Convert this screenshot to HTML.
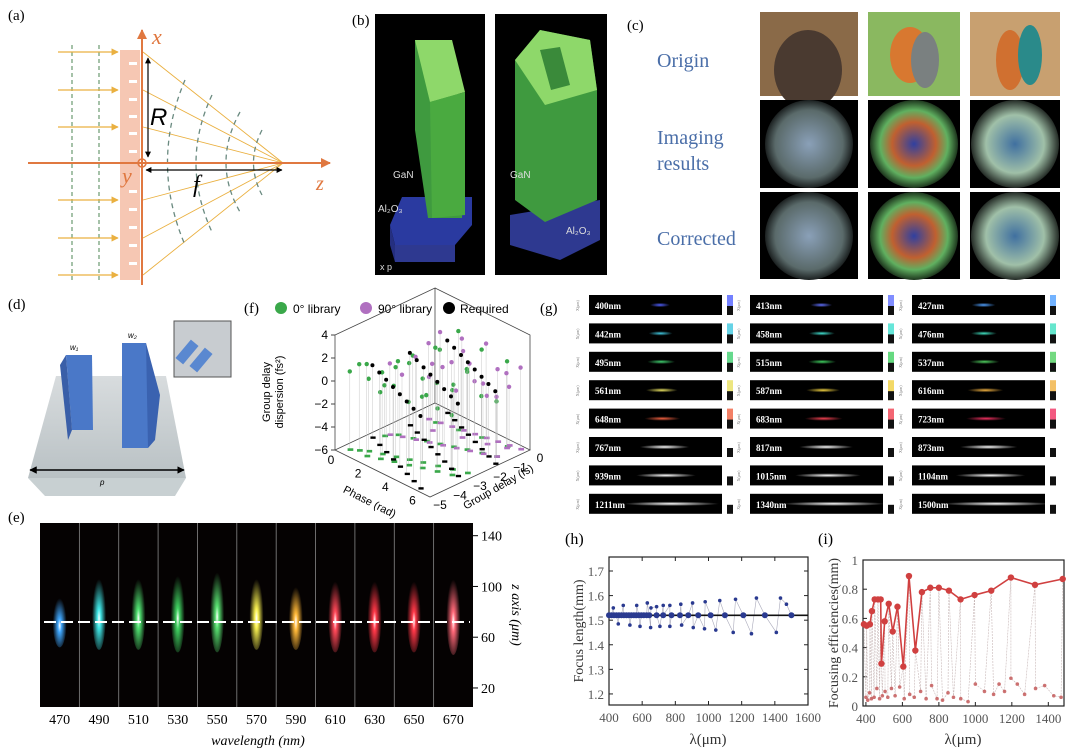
<!DOCTYPE html>
<html><head><meta charset="utf-8">
<style>
html,body{margin:0;padding:0;background:#fff;}
svg{display:block;font-family:"Liberation Serif",serif;}
.sans{font-family:"Liberation Sans",sans-serif;}
</style></head>
<body>
<svg id="root" width="1080" height="755" viewBox="0 0 1080 755" xmlns="http://www.w3.org/2000/svg">
<defs>
  <marker id="arO" viewBox="0 0 10 10" refX="9" refY="5" markerWidth="5" markerHeight="5" orient="auto"><path d="M0,0L10,5L0,10z" fill="#e07840"/></marker>
  <marker id="arY" viewBox="0 0 10 10" refX="9" refY="5" markerWidth="6" markerHeight="6" orient="auto"><path d="M0,0L10,5L0,10z" fill="#eab040"/></marker>
  <marker id="arK" viewBox="0 0 10 10" refX="9" refY="5" markerWidth="5" markerHeight="5" orient="auto-start-reverse"><path d="M0,0L10,5L0,10z" fill="#000"/></marker>
  <linearGradient id="plate" x1="0" y1="0" x2="0" y2="1"><stop offset="0" stop-color="#d8dcde"/><stop offset="1" stop-color="#b9c1c4"/></linearGradient>
  <radialGradient id="glowA" cx="0.5" cy="0.5" r="0.55"><stop offset="0" stop-color="#8aa0b8"/><stop offset="0.7" stop-color="#5a6a6a"/><stop offset="1" stop-color="#000"/></radialGradient>
  <radialGradient id="glowB" cx="0.5" cy="0.5" r="0.55"><stop offset="0" stop-color="#3040a0"/><stop offset="0.45" stop-color="#c06030"/><stop offset="0.7" stop-color="#60b060"/><stop offset="1" stop-color="#000"/></radialGradient>
  <radialGradient id="glowC" cx="0.5" cy="0.5" r="0.55"><stop offset="0" stop-color="#4070a0"/><stop offset="0.6" stop-color="#a0c0a8"/><stop offset="1" stop-color="#000"/></radialGradient>
</defs>

<!-- PANEL A -->
<g>
  <text x="8" y="20" font-size="15">(a)</text>
  <rect x="120" y="50" width="20" height="230" fill="#f6c7b3"/>
  <g fill="#fff">
    <rect x="129" y="62" width="8" height="3"/><rect x="129" y="80" width="8" height="3"/><rect x="129" y="98" width="8" height="3"/><rect x="129" y="115" width="8" height="3"/><rect x="129" y="132" width="8" height="3"/><rect x="129" y="150" width="8" height="3"/><rect x="129" y="190" width="8" height="3"/><rect x="129" y="208" width="8" height="3"/><rect x="129" y="226" width="8" height="3"/><rect x="129" y="244" width="8" height="3"/><rect x="129" y="262" width="8" height="3"/>
  </g>
  <g stroke="#6a9a70" stroke-dasharray="4,3" stroke-width="1.2">
    <line x1="72" y1="45" x2="72" y2="280"/><line x1="99" y1="45" x2="99" y2="280"/>
  </g>
  <g stroke="#eab040" stroke-width="1.2" marker-end="url(#arY)">
    <line x1="58" y1="52" x2="118" y2="52"/><line x1="58" y1="90" x2="118" y2="90"/><line x1="58" y1="127" x2="118" y2="127"/><line x1="58" y1="200" x2="118" y2="200"/><line x1="58" y1="238" x2="118" y2="238"/><line x1="58" y1="275" x2="118" y2="275"/>
  </g>
  <g stroke="#eab040" stroke-width="0.9">
    <line x1="143" y1="52" x2="283" y2="163"/><line x1="143" y1="90" x2="283" y2="163"/><line x1="143" y1="127" x2="283" y2="163"/><line x1="143" y1="200" x2="283" y2="163"/><line x1="143" y1="238" x2="283" y2="163"/><line x1="143" y1="275" x2="283" y2="163"/>
  </g>
  <g fill="none" stroke="#6a8a80" stroke-dasharray="5,4" stroke-width="1.3">
    <path d="M185,80 Q150,163 185,245"/><path d="M212,95 Q180,163 212,232"/><path d="M240,112 Q212,163 240,212"/><path d="M262,130 Q245,163 262,195"/>
  </g>
  <line x1="28" y1="163" x2="330" y2="163" stroke="#e07840" stroke-width="2" marker-end="url(#arO)"/>
  <line x1="142" y1="285" x2="142" y2="30" stroke="#e07840" stroke-width="2" marker-end="url(#arO)"/>
  <circle cx="142" cy="163" r="4" fill="none" stroke="#e07840" stroke-width="1.5"/>
  <line x1="148" y1="58" x2="148" y2="157" stroke="#000" stroke-width="1.2" marker-start="url(#arK)" marker-end="url(#arK)"/>
  <line x1="146" y1="170" x2="282" y2="170" stroke="#000" stroke-width="1.2" marker-start="url(#arK)" marker-end="url(#arK)"/>
  <text x="150" y="125" font-size="24" font-style="italic" font-family="Liberation Sans,sans-serif">R</text>
  <text x="193" y="192" font-size="24" font-style="italic">f</text>
  <text x="152" y="44" font-size="22" font-style="italic" fill="#e07840">x</text>
  <text x="316" y="190" font-size="20" font-style="italic" fill="#e07840">z</text>
  <text x="122" y="183" font-size="22" font-style="italic" fill="#e07840">y</text>
</g>

<!-- PANEL B -->
<g class="sans">
  <text x="352" y="25" font-size="15" font-family="Liberation Serif,serif">(b)</text>
  <rect x="375" y="14" width="110" height="261" fill="#000"/>
  <polygon points="390,225 402,197 472,197 472,225 455,245 395,245" fill="#2a3aa0"/>
  <polygon points="390,225 395,245 395,262 390,245" fill="#252f80"/>
  <polygon points="395,245 455,245 455,262 395,262" fill="#2e3990"/>
  <polygon points="415,40 452,40 462,122 462,218 428,218 415,130" fill="#3f9a3f"/>
  <polygon points="415,40 452,40 465,92 430,102" fill="#8ed86a"/>
  <polygon points="430,102 465,92 465,215 432,218" fill="#4aaa40"/>
  <text x="393" y="178" font-size="10" fill="#ddd">GaN</text>
  <text x="380" y="270" font-size="9" fill="#ddd">x      p</text>
  <rect x="495" y="14" width="112" height="261" fill="#000"/>
  <polygon points="510,215 600,200 600,240 560,260 510,245" fill="#2e3990"/>
  <polygon points="515,60 540,30 590,40 597,90 597,200 545,222 515,200" fill="#3f9a3f"/>
  <polygon points="515,60 540,30 590,40 597,90 545,105" fill="#8ed86a"/>
  <polygon points="540,50 560,47 570,85 551,90" fill="#3a8a3a"/>
  <text x="510" y="178" font-size="10" fill="#ddd">GaN</text>
  <text x="566" y="234" font-size="10" fill="#ddd">Al₂O₃</text>
  <text x="378" y="212" font-size="10" fill="#ddd">Al₂O₃</text>
</g>

<!-- PANEL C -->
<g>
  <text x="627" y="30" font-size="15">(c)</text>
  <text x="657" y="67" font-size="20" fill="#4a6ea8">Origin</text>
  <text x="657" y="144" font-size="20" fill="#4a6ea8">Imaging</text>
  <text x="657" y="170" font-size="20" fill="#4a6ea8">results</text>
  <text x="657" y="245" font-size="20" fill="#4a6ea8">Corrected</text>
  <rect x="760" y="12" width="98" height="84" fill="#8a6a48"/>
  <ellipse cx="808" cy="70" rx="34" ry="40" fill="#4a3a30"/>
  <rect x="868" y="12" width="92" height="84" fill="#8ab860"/>
  <ellipse cx="910" cy="55" rx="20" ry="28" fill="#d87830"/><ellipse cx="925" cy="60" rx="14" ry="28" fill="#7a8080"/>
  <rect x="970" y="12" width="90" height="84" fill="#c8a070"/>
  <ellipse cx="1010" cy="60" rx="14" ry="30" fill="#d07030"/><ellipse cx="1030" cy="55" rx="12" ry="30" fill="#2a8a8a"/>
  <rect x="760" y="100" width="98" height="88" fill="#000"/><ellipse cx="809" cy="144" rx="44" ry="44" fill="url(#glowA)"/>
  <rect x="868" y="100" width="92" height="88" fill="#000"/><ellipse cx="914" cy="144" rx="44" ry="44" fill="url(#glowB)"/>
  <rect x="970" y="100" width="90" height="88" fill="#000"/><ellipse cx="1015" cy="144" rx="44" ry="44" fill="url(#glowC)"/>
  <rect x="760" y="192" width="98" height="87" fill="#000"/><ellipse cx="809" cy="236" rx="44" ry="44" fill="url(#glowA)"/>
  <rect x="868" y="192" width="92" height="87" fill="#000"/><ellipse cx="914" cy="236" rx="44" ry="44" fill="url(#glowB)"/>
  <rect x="970" y="192" width="90" height="87" fill="#000"/><ellipse cx="1015" cy="236" rx="44" ry="44" fill="url(#glowC)"/>
</g>

<!-- PANEL D -->
<g class="sans">
  <text x="8" y="309" font-size="15" font-family="Liberation Serif,serif">(d)</text>
  <polygon points="56,376 166,376 186,478 28,478" fill="url(#plate)"/>
  <polygon points="28,478 186,478 175,496 45,496" fill="#c8d0d2"/>
  <polygon points="66,355 92,355 93,430 72,430" fill="#4a78c8"/>
  <polygon points="60,365 66,355 72,430 68,440" fill="#3a5fa8"/>
  <polygon points="122,343 146,343 155,405 148,448 122,448" fill="#4a78c8"/>
  <polygon points="146,343 160,395 155,440 148,448" fill="#3a62b0"/>
  <line x1="30" y1="470" x2="184" y2="470" stroke="#000" stroke-width="1.5" marker-start="url(#arK)" marker-end="url(#arK)"/>
  <text x="100" y="485" font-size="8" font-style="italic">p</text>
  <text x="70" y="350" font-size="8" font-style="italic">w₁</text>
  <text x="128" y="338" font-size="8" font-style="italic">w₂</text>
  <rect x="174" y="321" width="57" height="56" fill="#c8ccd0" stroke="#555"/>
  <rect x="182" y="340" width="10" height="24" fill="#5a88d0" transform="rotate(40 187 352)"/>
  <rect x="196" y="348" width="10" height="24" fill="#5a88d0" transform="rotate(40 201 360)"/>
</g>

<!-- PANEL F -->
<g id="panelF" class="sans">
  <text x="244" y="313" font-size="15" font-family="Liberation Serif,serif">(f)</text>
  <circle cx="281" cy="308" r="6" fill="#3aa84a"/><text x="293" y="313" font-size="12">0° library</text>
  <circle cx="366" cy="308" r="6" fill="#b070c0"/><text x="378" y="313" font-size="12">90° library</text>
  <circle cx="449" cy="308" r="6" fill="#000"/><text x="460" y="313" font-size="12">Required</text>
  <text x="270" y="392" font-size="11" transform="rotate(-90 270 392)" text-anchor="middle">Group delay</text>
  <text x="283" y="392" font-size="11" transform="rotate(-90 283 392)" text-anchor="middle">dispersion (fs²)</text>
  <text x="368" y="505" font-size="11" transform="rotate(27 368 505)" text-anchor="middle">Phase (rad)</text>
  <text x="500" y="490" font-size="11" transform="rotate(-30 500 490)" text-anchor="middle">Group delay (fs)</text>
</g>

<!-- PANEL G -->
<g id="panelG">
  <text x="540" y="313" font-size="15">(g)</text>
</g>

<!-- PANEL E -->
<g id="panelE">
  <text x="8" y="522" font-size="15">(e)</text>
  <rect x="40" y="523" width="433" height="184" fill="#050202"/>
</g>

<!-- PANELS H & I -->
<g id="panelH">
  <text x="565" y="544" font-size="16">(h)</text>
</g>
<g id="panelI">
  <text x="818" y="544" font-size="16">(i)</text>
</g>
</svg>

<script>
const NS="http://www.w3.org/2000/svg";
function mk(parent,tag,attrs,text){const e=document.createElementNS(NS,tag);for(const k in attrs)e.setAttribute(k,attrs[k]);if(text!==undefined)e.textContent=text;parent.appendChild(e);return e;}

// ===== Panel F data =====
const f0Phase=[0.5,0.9,1.3,1.6,2.0,2.3,2.7,3.0,3.4,3.8,4.1,4.5,4.9,5.3,5.7,6.1,6.5,0.7,1.1,1.9,2.6,3.3,4.0,4.7,5.5,6.3,1.5,2.9,4.3,5.9];
const f0Gd=[-4.6,-4.4,-4.2,-4.5,-4.0,-4.3,-3.8,-4.1,-3.6,-3.9,-3.4,-3.7,-3.2,-3.5,-3.0,-3.3,-2.8,-3.0,-2.6,-2.4,-2.2,-2.0,-1.8,-1.6,-1.4,-1.2,-1.0,-0.8,-0.6,-0.4];
const f0Gdd=[0.8,1.5,0.3,2.0,1.1,-0.2,1.8,0.6,2.4,-0.5,1.3,0.2,-1.0,1.7,0.9,-0.8,2.8,-1.6,0.4,1.2,-2.0,2.2,-0.6,1.0,3.0,-1.2,0.5,2.6,-2.4,1.4];
const f90Phase=[0.8,1.4,2.1,2.8,3.5,4.2,4.9,5.6,6.3,1.0,1.7,2.4,3.1,3.8,4.5,5.2,5.9,6.6,2.0,3.6,5.0,6.0];
const f90Gd=[-2.8,-2.6,-2.4,-2.2,-2.0,-1.8,-1.6,-1.4,-1.2,-1.0,-0.9,-0.8,-0.7,-0.6,-0.5,-0.4,-0.3,-0.2,-1.5,-1.1,-0.8,-0.5];
const f90Gdd=[0.2,-0.6,1.2,-0.3,0.8,-1.0,1.6,0.1,-0.8,0.6,1.9,-0.4,0.9,-1.4,2.2,0.3,-0.9,1.1,-0.2,2.6,-1.8,0.5];
const reqPhase=[6.0,5.2,4.4,3.6,2.8,2.0,1.2,0.4,6.4,5.6,4.8,4.0,3.2,2.4,1.6,0.8,6.8,6.0,5.2,4.4,3.6,2.8,2.0,1.2];
const reqGd=[-4.8,-4.6,-4.4,-4.2,-4.0,-3.8,-3.6,-3.4,-3.2,-3.0,-2.8,-2.6,-2.4,-2.2,-2.0,-1.8,-1.6,-1.4,-1.2,-1.0,-0.8,-0.6,-0.4,-0.2];
const reqGdd=[0.3,0.3,0.3,0.3,0.3,0.3,0.3,0.3,0.3,0.3,0.3,0.3,0.3,0.3,0.3,0.3,0.3,0.3,0.3,0.3,0.3,0.3,0.3,0.3];
const fZTicks=[4,2,0,-2,-4,-6];
const fPTicks=[0,2,4,6];
const fGTicks=[0,-1,-2,-3,-4,-5];

// ===== Panel E data =====
const eWavelengths=[470,490,510,530,550,570,590,610,630,650,670];
const eColors=["#40a8ff","#40e8e8","#50e070","#40d060","#58e070","#f8f050","#ffb838","#ff4858","#ff3848","#ff3848","#ff6878"];
const eFocusZ=[72,72,72,72,72,72,72,72,72,72,72];
const eSpotTop=[95,112,112,115,118,112,105,110,110,110,112];
const eSpotBot=[52,50,50,48,48,50,50,48,48,48,46];
const eZTicks=[20,60,100,140];

// ===== Panel G data =====
const gLabels=["400nm","413nm","427nm","442nm","458nm","476nm","495nm","515nm","537nm","561nm","587nm","616nm","648nm","683nm","723nm","767nm","817nm","873nm","939nm","1015nm","1104nm","1211nm","1340nm","1500nm"];
const gSpotLen=[10,11,12,12,13,13,14,14,15,16,17,18,18,19,20,25,27,29,30,33,35,48,52,55];
const gColors=["#5060ff","#6070ff","#50a0ff","#40c8e0","#40e0d0","#40e0c0","#40d070","#40d060","#50d060","#e8e060","#f0d040","#f0b040","#f06040","#f04050","#f03060","#ffffff","#ffffff","#ffffff","#ffffff","#ffffff","#ffffff","#ffffff","#ffffff","#ffffff"];

// ===== Panel H data =====
const hMainX=[400,415,430,445,460,475,490,505,520,535,550,565,580,595,610,627,643,687,727,777,828,878,938,1013,1099,1210,1340,1500];
const hMainY=[1.52,1.52,1.52,1.52,1.52,1.52,1.52,1.52,1.52,1.52,1.52,1.52,1.52,1.52,1.52,1.52,1.52,1.52,1.52,1.52,1.52,1.52,1.52,1.52,1.52,1.52,1.52,1.52];
const hHiX=[426,486,567,631,653,687,727,767,833,904,980,1068,1163,1289,1434];
const hHiY=[1.55,1.56,1.56,1.57,1.55,1.555,1.56,1.56,1.565,1.57,1.575,1.58,1.585,1.59,1.59];
const hLoX=[456,526,587,651,707,767,838,908,976,1044,1149,1259,1409,1470];
const hLoY=[1.485,1.48,1.475,1.47,1.475,1.475,1.48,1.47,1.465,1.46,1.45,1.445,1.45,1.565];
const hFit=1.52;
const hXTicks=[400,600,800,1000,1200,1400,1600];
const hYTicks=[1.2,1.3,1.4,1.5,1.6,1.7];

// ===== Panel I data =====
const iMainX=[389,404,422,433,448,466,481,485,503,525,547,573,605,636,671,707,753,800,855,919,996,1087,1195,1327,1479];
const iMainY=[0.56,0.55,0.56,0.65,0.73,0.73,0.73,0.29,0.58,0.70,0.51,0.68,0.27,0.89,0.38,0.78,0.81,0.81,0.79,0.73,0.76,0.79,0.88,0.83,0.87];
const iSecX=[400,410,420,430,445,460,475,490,505,520,540,560,585,610,640,665,700,730,760,790,820,850,880,920,960,1000,1050,1100,1130,1160,1195,1230,1270,1330,1380,1430,1470];
const iSecY=[0.06,0.04,0.09,0.05,0.06,0.12,0.05,0.07,0.10,0.06,0.12,0.07,0.13,0.05,0.08,0.06,0.10,0.05,0.14,0.05,0.04,0.09,0.06,0.05,0.03,0.15,0.10,0.08,0.15,0.10,0.19,0.15,0.08,0.12,0.14,0.07,0.06];
const iXTicks=[400,600,800,1000,1200,1400];
const iYTicks=[0,0.2,0.4,0.6,0.8,1];

// ---------- draw F ----------
(function(){
  const g=document.getElementById('panelF');
  const P=(p,gd,d)=>[335+p/7*95+(gd+5)/5*100, 450+p/7*47-(gd+5)/5*47-(d+6)*11.5];
  const floor=[P(0,-5,-6),P(7,-5,-6),P(7,0,-6),P(0,0,-6)];
  const fl=mk(g,'polygon',{points:floor.map(q=>q.join(',')).join(' '),fill:'#fff',stroke:'#444','stroke-width':0.8});
  
  const a=P(0,-5,-6),b=P(0,-5,4),c=P(0,0,4),d=P(0,0,-6),e=P(7,0,4),f=P(7,0,-6);
  mk(g,'polyline',{points:[a,b,c,d].map(q=>q.join(',')).join(' '),fill:'none',stroke:'#444','stroke-width':0.8});
  mk(g,'polyline',{points:[c,e,f].map(q=>q.join(',')).join(' '),fill:'none',stroke:'#444','stroke-width':0.8});
  fZTicks.forEach(t=>{const q=P(0,-5,t);mk(g,'line',{x1:q[0]-4,y1:q[1],x2:q[0],y2:q[1],stroke:'#444'});
    const tx=mk(g,'text',{x:q[0]-7,y:q[1]+4,'font-size':12,'text-anchor':'end'},t<0?'−'+(-t):t);});
  fPTicks.forEach(t=>{const q=P(t,-5,-6);const tx=mk(g,'text',{x:q[0]-4,y:q[1]+14,'font-size':12,'text-anchor':'middle'},t);});
  fGTicks.forEach(t=>{const q=P(7,t,-6);const tx=mk(g,'text',{x:q[0]+10,y:q[1]+12,'font-size':12,'text-anchor':'middle'},t<0?'−'+(-t):t);});
  const sets=[[f0Phase,f0Gd,f0Gdd,'#3aa84a',2.2],[f90Phase,f90Gd,f90Gdd,'#b070c0',2.2],[reqPhase,reqGd,reqGdd,'#000',2]];
  sets.forEach(([ph,gd,dd,col,r])=>{for(let i=0;i<ph.length;i++){const top=P(ph[i],gd[i],dd[i]),bot=P(ph[i],gd[i],-6);
    mk(g,'line',{x1:top[0],y1:top[1],x2:bot[0],y2:bot[1],stroke:'#bbb','stroke-width':0.4});
    const s=mk(g,'rect',{x:bot[0]-r,y:bot[1]-r*0.6,width:r*2.6,height:r*1.2,fill:col});
    const m=mk(g,'circle',{cx:top[0],cy:top[1],r:r,fill:col});}});
})();

// ---------- draw E ----------
(function(){
  const g=document.getElementById('panelE');
  const x0=40,W=433/11;
  const Y=z=>707-(z-5)/(150-5)*184;
  eWavelengths.forEach((w,i)=>{
    const cx=x0+W*(i+0.5);
    if(i>0){const l=mk(g,'line',{x1:x0+W*i,y1:523,x2:x0+W*i,y2:707,stroke:'#888','stroke-width':0.8});}
    const id='eg'+i;
    const df=mk(document.querySelector('defs'),'radialGradient',{id:id,cx:'0.5',cy:'0.6',r:'0.5'});
    mk(df,'stop',{offset:'0','stop-color':'#ffffff'});mk(df,'stop',{offset:'0.25','stop-color':eColors[i]});mk(df,'stop',{offset:'1','stop-color':eColors[i],'stop-opacity':'0'});
    const yt=Y(eSpotTop[i]),yb=Y(eSpotBot[i]);
    const sp=mk(g,'ellipse',{cx:cx,cy:(yt+yb)/2,rx:7,ry:(yb-yt)/2,fill:'url(#'+id+')'});
    
    const t=mk(g,'text',{x:cx,y:724,'font-size':14,'text-anchor':'middle'},w);
    
  });
  const dl=mk(g,'line',{x1:44,y1:Y(eFocusZ[0]),x2:470,y2:Y(eFocusZ[0]),stroke:'#fff','stroke-width':2,'stroke-dasharray':'12,5'});
  
  eZTicks.forEach(z=>{mk(g,'line',{x1:473,y1:Y(z),x2:478,y2:Y(z),stroke:'#000'});
    const t=mk(g,'text',{x:481,y:Y(z)+5,'font-size':14},z);});
  const xl=mk(g,'text',{x:258,y:745,'font-size':14,'font-style':'italic','text-anchor':'middle'},'wavelength (nm)');
  
  const yl=mk(g,'text',{x:512,y:615,'font-size':14,'font-style':'italic','text-anchor':'middle',transform:'rotate(90 512 615)'},'z axis (μm)');
  
})();

// ---------- draw G ----------
(function(){
  const g=document.getElementById('panelG');
  const colX=[589,750,912],W=133,H=20;
  gLabels.forEach((lab,i)=>{
    const r=Math.floor(i/3),c=i%3;const x=colX[c],y=295+r*28.4;
    const s=mk(g,'rect',{x:x,y:y,width:W,height:H,fill:'#000'});
    mk(g,'text',{x:x+6,y:y+14,'font-size':9,'font-weight':'bold',fill:'#fff'},lab);
    const id='gg'+i;const df=mk(document.querySelector('defs'),'radialGradient',{id:id});
    mk(df,'stop',{offset:'0','stop-color':gColors[i]});mk(df,'stop',{offset:'1','stop-color':gColors[i],'stop-opacity':'0'});
    mk(g,'ellipse',{cx:x+68+gSpotLen[i]*0.3,cy:y+H/2,rx:gSpotLen[i],ry:2.2,fill:'url(#'+id+')'});
    const cb=mk(g,'rect',{x:x+W+5,y:y,width:6,height:H,fill:gColors[i],opacity:0.8});
    mk(g,'rect',{x:x+W+5,y:y+H*0.55,width:6,height:H*0.45,fill:'#111'});
    mk(g,'text',{x:x-10,y:y+16,'font-size':4,fill:'#777',transform:'rotate(-90 '+(x-10)+' '+(y+16)+')'},'X(μm)');
  });
})();

// ---------- axes helpers ----------
function axesBox(g,L,T,R,B){const b=mk(g,'rect',{x:L,y:T,width:R-L,height:B-T,fill:'#fff',stroke:'#222','stroke-width':1.2});}

// ---------- draw H ----------
(function(){
  const g=document.getElementById('panelH');
  const L=609,R=808,T=557,B=705,x0=400,x1=1600,y0=1.155,y1=1.757;
  const X=v=>L+(v-x0)/(x1-x0)*(R-L),Y=v=>B-(v-y0)/(y1-y0)*(B-T);
  axesBox(g,L,T,R,B);
  hXTicks.forEach(t=>{mk(g,'line',{x1:X(t),y1:B,x2:X(t),y2:B-4,stroke:'#222'});mk(g,'line',{x1:X(t),y1:T,x2:X(t),y2:T+4,stroke:'#222'});
    const tx=mk(g,'text',{x:X(t),y:B+17,'font-size':13,fill:'#555','text-anchor':'middle'},t);});
  hYTicks.forEach(t=>{mk(g,'line',{x1:L,y1:Y(t),x2:L+4,y2:Y(t),stroke:'#222'});mk(g,'line',{x1:R,y1:Y(t),x2:R-4,y2:Y(t),stroke:'#222'});
    const tx=mk(g,'text',{x:L-5,y:Y(t)+5,'font-size':13,fill:'#555','text-anchor':'end'},t.toFixed(1));});
  const all=[];hHiX.forEach((v,i)=>all.push([v,hHiY[i]]));hLoX.forEach((v,i)=>all.push([v,hLoY[i]]));hMainX.forEach((v,i)=>all.push([v,hMainY[i]]));
  all.sort((a,b)=>a[0]-b[0]);
  const zz=mk(g,'polyline',{points:all.map(p=>X(p[0])+','+Y(p[1])).join(' '),fill:'none',stroke:'#aab','stroke-width':0.6});
  
  const fl=mk(g,'line',{x1:L,y1:Y(hFit),x2:R,y2:Y(hFit),stroke:'#111','stroke-width':1.6});
  hHiX.forEach((v,i)=>{const c=mk(g,'circle',{cx:X(v),cy:Y(hHiY[i]),r:1.8,fill:'#2a3a90'});});
  hLoX.forEach((v,i)=>{const c=mk(g,'circle',{cx:X(v),cy:Y(hLoY[i]),r:1.8,fill:'#2a3a90'});});
  hMainX.forEach((v,i)=>{const c=mk(g,'circle',{cx:X(v),cy:Y(hMainY[i]),r:3,fill:'#2a3a90'});});
  const xl=mk(g,'text',{x:708,y:744,'font-size':15,'text-anchor':'middle',fill:'#333'},'λ(μm)');
  const yl=mk(g,'text',{x:583,y:631,'font-size':14,'text-anchor':'middle',fill:'#333',transform:'rotate(-90 583 631)'},'Focus length(mm)');
})();

// ---------- draw I ----------
(function(){
  const g=document.getElementById('panelI');
  const L=863,R=1064,T=560,B=706,x0=384,x1=1486,y0=0,y1=1;
  const X=v=>L+(v-x0)/(x1-x0)*(R-L),Y=v=>B-(v-y0)/(y1-y0)*(B-T);
  axesBox(g,L,T,R,B);
  iXTicks.forEach(t=>{mk(g,'line',{x1:X(t),y1:B,x2:X(t),y2:B-4,stroke:'#222'});
    const tx=mk(g,'text',{x:X(t),y:B+17,'font-size':13,fill:'#555','text-anchor':'middle'},t);});
  iYTicks.forEach(t=>{mk(g,'line',{x1:L,y1:Y(t),x2:L+4,y2:Y(t),stroke:'#222'});
    const tx=mk(g,'text',{x:L-5,y:Y(t)+5,'font-size':13,fill:'#555','text-anchor':'end'},t===0||t===1?String(t):t.toFixed(1));});
  const all=[];iMainX.forEach((v,i)=>all.push([v,iMainY[i]]));iSecX.forEach((v,i)=>all.push([v,iSecY[i]]));all.sort((a,b)=>a[0]-b[0]);
  const zz=mk(g,'polyline',{points:all.map(p=>X(p[0])+','+Y(p[1])).join(' '),fill:'none',stroke:'#c8b8b8','stroke-width':0.6,'stroke-dasharray':'2,1'});
  
  iSecX.forEach((v,i)=>{const c=mk(g,'circle',{cx:X(v),cy:Y(iSecY[i]),r:1.8,fill:'#c05050',opacity:0.8});});
  const ln=mk(g,'polyline',{points:iMainX.map((v,i)=>X(v)+','+Y(iMainY[i])).join(' '),fill:'none',stroke:'#d04040','stroke-width':1.6});
  
  iMainX.forEach((v,i)=>{const c=mk(g,'circle',{cx:X(v),cy:Y(iMainY[i]),r:3.2,fill:'#d04040'});});
  const xl=mk(g,'text',{x:963,y:744,'font-size':15,'text-anchor':'middle',fill:'#333'},'λ(μm)');
  const yl=mk(g,'text',{x:838,y:633,'font-size':14,'text-anchor':'middle',fill:'#333',transform:'rotate(-90 838 633)'},'Focusing efficiencies(mm)');
})();
</script>
</body></html>
